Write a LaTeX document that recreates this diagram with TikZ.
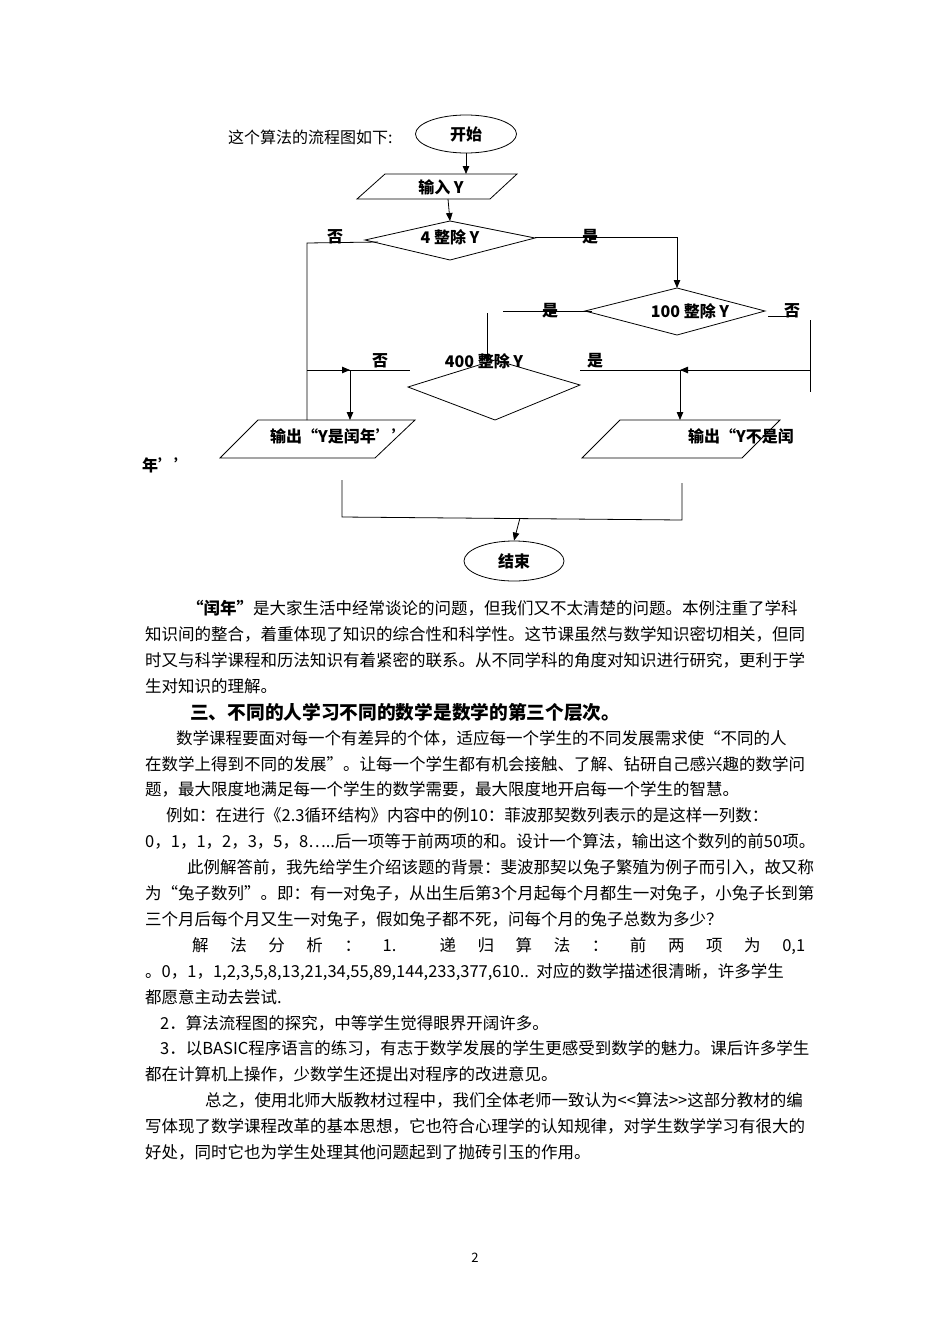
\documentclass[tikz,border=0pt]{standalone}
\usepackage{fontspec}
\setmainfont{Noto Sans CJK SC}
\usetikzlibrary{shapes.geometric,arrows.meta}
\tikzset{
  fl/.style={draw=black,line width=0.8pt},
  arr/.style={fl,-{Triangle[length=8pt,width=6.5pt]}},
  lbl/.style={inner sep=0pt,font=\fontsize{16}{16}\selectfont\bfseries},
  para/.style={anchor=base west,inner sep=0pt,font=\fontsize{16.5}{16.5}\selectfont},
}
\begin{document}
\begin{tikzpicture}[x=1pt,y=-1pt]
\path[use as bounding box,fill=white] (0,0) rectangle (950,1344);

% intro
\node[anchor=base west,inner sep=0pt,font=\fontsize{16}{16}\selectfont] (intro) at (228,143) {这个算法的流程图如下:};

% start
\node[ellipse,draw,line width=0.8pt,minimum width=101pt,minimum height=38pt,lbl] (start) at (466,134) {开始};

% input
\draw[fl] (385,174) -- (517,174) -- (490,199) -- (357,199) -- cycle;
\node[lbl] (inp) at (441,187) {输入 Y};
\coordinate (inTop) at (466,174);
\coordinate (inBot) at (448,199);

% diamond 1
\draw[fl] (450,221) -- (535,238) -- (450,260) -- (365,240) -- cycle;
\node[lbl] (d1) at (450,237) {4 整除 Y};
\coordinate (d1top) at (450,221);
\coordinate (d1L) at (378,242);
\coordinate (d1R) at (535,237);

% diamond 2
\draw[fl] (677,288) -- (765,311) -- (677,335) -- (585,311) -- cycle;
\node[lbl] (d2) at (690,311) {100 整除 Y};
\coordinate (d2top) at (677,288);
\coordinate (d2L) at (592,311);
\coordinate (d2R) at (768,316);

% diamond 3
\draw[fl] (495,360) -- (580,385) -- (495,420) -- (408,387) -- cycle;
\node[lbl] (d3) at (484,361) {400 整除 Y};

% output left
\draw[fl] (258,420) -- (415,420) -- (375,458) -- (220,458) -- cycle;
\node[lbl,anchor=west] (outL) at (270,436) {输出“Y是闰年’’};
\node[lbl,anchor=west] (outL2) at (142,465) {年’’};
% output right
\draw[fl] (620,420) -- (780,420) -- (742,458) -- (582,458) -- cycle;
\node[lbl,anchor=west] (outR) at (688,436) {输出“Y不是闰};

% labels
\node[lbl] (n1) at (335,237) {否};
\node[lbl] (y1) at (590,237) {是};
\node[lbl] (y2) at (550,311) {是};
\node[lbl] (n2) at (792,311) {否};
\node[lbl] (n3) at (380,361) {否};
\node[lbl] (y3) at (595,361) {是};

% connectors
\draw[arr] (start.south) -- (inTop);
\draw[arr] (inBot) -- (d1top);
\coordinate (a1) at (307,243);
\coordinate (a2) at (307,420);
\draw[fl] (d1L) -- (a1) -- (a2);
\coordinate (b1) at (677,237);
\draw[fl] (d1R) -- (b1);
\draw[arr] (b1) -- (d2top);
\coordinate (c1) at (503,311);
\draw[fl] (d2L) -- (c1);
\coordinate (c2) at (487,313);
\coordinate (c3) at (487,362);
\draw[arr] (c2) -- (c3);
\coordinate (e1) at (797,316);
\draw[fl] (d2R) -- (e1);
\coordinate (e2) at (810,320);
\coordinate (e3) at (810,392);
\draw[fl] (e2) -- (e3);
% left horizontal
\coordinate (f1) at (307,370);
\coordinate (f2) at (350,370);
\coordinate (f3) at (410,370);
\coordinate (f4) at (350,420);
\draw[fl] (f1) -- (f3);
\draw[arr] (f1) -- (f2);
\draw[arr] (f2) -- (f4);
% right horizontal
\coordinate (g1) at (580,370);
\coordinate (g2) at (680,370);
\coordinate (g3) at (810,370);
\coordinate (g4) at (680,420);
\draw[fl] (g1) -- (g3);
\draw[arr] (g3) -- (g2);
\draw[arr] (g2) -- (g4);
% bottom join
\coordinate (h1) at (342,480);
\coordinate (h2) at (342,517);
\coordinate (h3) at (682,520);
\coordinate (h4) at (682,483);
\coordinate (hm) at (520,518);
\draw[fl] (h1) -- (h2) -- (h3) -- (h4);
\node[ellipse,draw,line width=0.8pt,minimum width=100pt,minimum height=40pt,lbl] (end) at (514,561) {结束};
\draw[arr] (hm) -- (end.north);

% paragraphs
\node[para] (p1) at (187,614) {\textbf{“闰年”}是大家生活中经常谈论的问题，但我们又不太清楚的问题。本例注重了学科};
\node[para] (p2) at (145,640) {知识间的整合，着重体现了知识的综合性和科学性。这节课虽然与数学知识密切相关，但同};
\node[para] (p3) at (145,666) {时又与科学课程和历法知识有着紧密的联系。从不同学科的角度对知识进行研究，更利于学};
\node[para] (p4) at (145,692) {生对知识的理解。};
\node[para,font=\fontsize{18.7}{18.7}\selectfont\bfseries] (h) at (190,719) {三、不同的人学习不同的数学是数学的第三个层次。};
\node[para] (p5) at (176,744) {数学课程要面对每一个有差异的个体，适应每一个学生的不同发展需求使“不同的人};
\node[para] (p6) at (145,770) {在数学上得到不同的发展”。让每一个学生都有机会接触、了解、钻研自己感兴趣的数学问};
\node[para] (p7) at (145,795) {题，最大限度地满足每一个学生的数学需要，最大限度地开启每一个学生的智慧。};
\node[para] (p8) at (166,821) {例如：在进行《2.3循环结构》内容中的例10：菲波那契数列表示的是这样一列数：};
\node[para] (p9) at (145,847) {0，1，1，2，3，5，8…..后一项等于前两项的和。设计一个算法，输出这个数列的前50项。};
\node[para] (p10) at (187,873) {此例解答前，我先给学生介绍该题的背景：斐波那契以兔子繁殖为例子而引入，故又称};
\node[para] (p11) at (145,899) {为“兔子数列”。即：有一对兔子，从出生后第3个月起每个月都生一对兔子，小兔子长到第};
\node[para] (p12) at (145,925) {三个月后每个月又生一对兔子，假如兔子都不死，问每个月的兔子总数为多少？};
\node[para] (p13) at (192,951) {\makebox[613pt][s]{解\hfill 法\hfill 分\hfill 析\hfill ：\hfill 1.\hfill\hfill 递\hfill 归\hfill 算\hfill 法\hfill ：\hfill 前\hfill 两\hfill 项\hfill 为\hfill 0,1}};
\node[para] (p14) at (145,977) {。0，1，1,2,3,5,8,13,21,34,55,89,144,233,377,610..\ \ 对应的数学描述很清晰，许多学生};
\node[para] (p15) at (145,1003) {都愿意主动去尝试.};
\node[para] (p16) at (160,1029) {2．算法流程图的探究，中等学生觉得眼界开阔许多。};
\node[para] (p17) at (160,1054) {3．以BASIC程序语言的练习，有志于数学发展的学生更感受到数学的魅力。课后许多学生};
\node[para] (p18) at (145,1080) {都在计算机上操作，少数学生还提出对程序的改进意见。};
\node[para] (p19) at (205,1106) {总之，使用北师大版教材过程中，我们全体老师一致认为<{}<算法>{}>这部分教材的编};
\node[para] (p20) at (145,1132) {写体现了数学课程改革的基本思想，它也符合心理学的认知规律，对学生数学学习有很大的};
\node[para] (p21) at (145,1158) {好处，同时它也为学生处理其他问题起到了抛砖引玉的作用。};
\node[anchor=base,inner sep=0pt,font=\fontsize{13}{13}\selectfont] (pg) at (475,1262) {2};
\end{tikzpicture}
\end{document}
